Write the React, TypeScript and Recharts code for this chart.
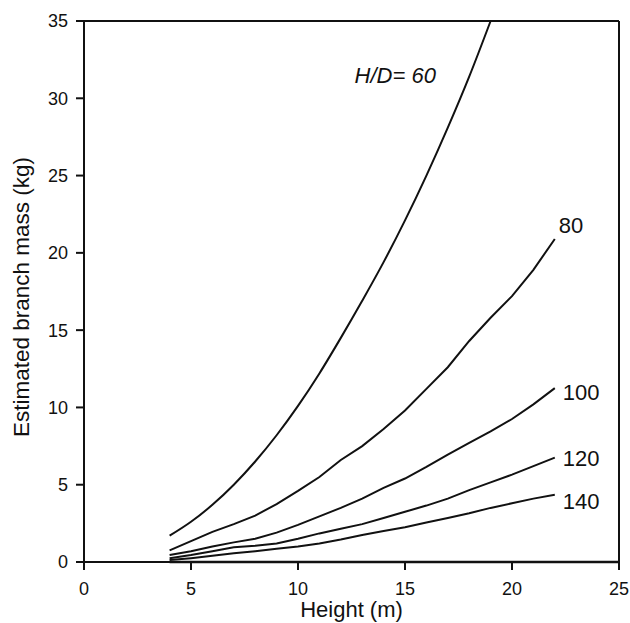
import { Line, LineChart, ReferenceLine, XAxis, YAxis } from "recharts";

// tree height (m) sampled along each curve
const heights = [4, 5, 6, 7, 8, 9, 10, 11, 12, 13, 14, 15, 16, 17, 18, 19, 20, 21, 22];

// estimated branch mass (kg) per H/D ratio
const massHD60 = [1.7, 2.6, 3.7, 5.0, 6.5, 8.2, 10.1, 12.2, 14.5, 16.9, 19.4, 22.1, 25.0, 28.1, 31.4, 35.0];
const massHD80 = [0.75, 1.35, 1.95, 2.45, 3.0, 3.75, 4.6, 5.5, 6.6, 7.5, 8.6, 9.8, 11.2, 12.6, 14.3, 15.8, 17.2, 18.9, 20.9];
const massHD100 = [0.45, 0.7, 1.0, 1.27, 1.5, 1.9, 2.4, 2.95, 3.5, 4.1, 4.8, 5.4, 6.15, 6.95, 7.7, 8.45, 9.25, 10.2, 11.25];
const massHD120 = [0.25, 0.45, 0.7, 0.95, 1.05, 1.2, 1.5, 1.85, 2.15, 2.45, 2.85, 3.25, 3.65, 4.1, 4.65, 5.15, 5.65, 6.2, 6.75];
const massHD140 = [0.13, 0.25, 0.4, 0.56, 0.7, 0.85, 1.0, 1.2, 1.45, 1.75, 2.0, 2.25, 2.55, 2.85, 3.15, 3.5, 3.8, 4.1, 4.35];

const baseHeights = [4, 25];
const baseMass = [0, 0];

const xTicks = [0, 5, 10, 15, 20, 25];
const yTicks = [0, 5, 10, 15, 20, 25, 30, 35];

const FONT = "'Liberation Sans', Arial, Helvetica, sans-serif";
const INK = "#111";

function toRows(xs: number[], ys: number[]) {
  return ys.map((m, i) => ({ h: xs[i], m }));
}

const series = [
  { key: "60", values: massHD60, label: "H/D= 60", italic: true, smooth: true, dx: -136, dy: 62 },
  { key: "80", values: massHD80, label: "80", italic: false, smooth: false, dx: 4, dy: -6 },
  { key: "100", values: massHD100, label: "100", italic: false, smooth: false, dx: 8, dy: 12 },
  { key: "120", values: massHD120, label: "120", italic: false, smooth: false, dx: 8, dy: 8 },
  { key: "140", values: massHD140, label: "140", italic: false, smooth: false, dx: 8, dy: 14 },
];

function endLabel(text: string, last: number, dx: number, dy: number, italic: boolean) {
  return (props: any) => {
    if (props.index !== last) return null;
    return (
      <text
        x={props.x + dx}
        y={props.y + dy}
        fontFamily={FONT}
        fontSize={22}
        fontStyle={italic ? "italic" : "normal"}
        fill={INK}
      >
        {text}
      </text>
    );
  };
}

export default function App() {
  return (
    <div style={{ position: "absolute", left: 0, top: 0, width: 630, height: 623, background: "#fff" }}>
      <LineChart width={630} height={623} margin={{ top: 21, right: 11, left: 0, bottom: 0 }}>
        <XAxis
          type="number"
          dataKey="h"
          domain={[0, 25]}
          ticks={xTicks}
          height={61}
          tickSize={8}
          tickMargin={12}
          stroke={INK}
          strokeWidth={2}
          tick={{ fill: INK, fontSize: 18, fontFamily: FONT }}
          label={{
            content: ({ viewBox }: any) => (
              <text
                x={viewBox.x + viewBox.width / 2}
                y={617}
                textAnchor="middle"
                fontFamily={FONT}
                fontSize={22}
                fill={INK}
              >
                Height (m)
              </text>
            ),
          }}
        />
        <YAxis
          type="number"
          domain={[0, 35]}
          ticks={yTicks}
          width={84}
          tickSize={8}
          tickMargin={8}
          stroke={INK}
          strokeWidth={2}
          tick={{ fill: INK, fontSize: 18, fontFamily: FONT }}
          label={{
            content: () => (
              <text
                x={29}
                y={297}
                transform="rotate(-90 29 297)"
                textAnchor="middle"
                fontFamily={FONT}
                fontSize={22.5}
                fill={INK}
              >
                Estimated branch mass (kg)
              </text>
            ),
          }}
        />
        <ReferenceLine y={35} stroke={INK} strokeWidth={2} />
        <ReferenceLine x={25} stroke={INK} strokeWidth={2} />
        <Line
          data={toRows(baseHeights, baseMass)}
          dataKey="m"
          stroke={INK}
          strokeWidth={2.5}
          dot={false}
          isAnimationActive={false}
        />
        {series.map((s) => (
          <Line
            key={s.key}
            data={toRows(heights, s.values)}
            dataKey="m"
            type={s.smooth ? "monotone" : "linear"}
            stroke={INK}
            strokeWidth={2}
            dot={false}
            isAnimationActive={false}
            label={endLabel(s.label, s.values.length - 1, s.dx, s.dy, s.italic)}
          />
        ))}
      </LineChart>
    </div>
  );
}
